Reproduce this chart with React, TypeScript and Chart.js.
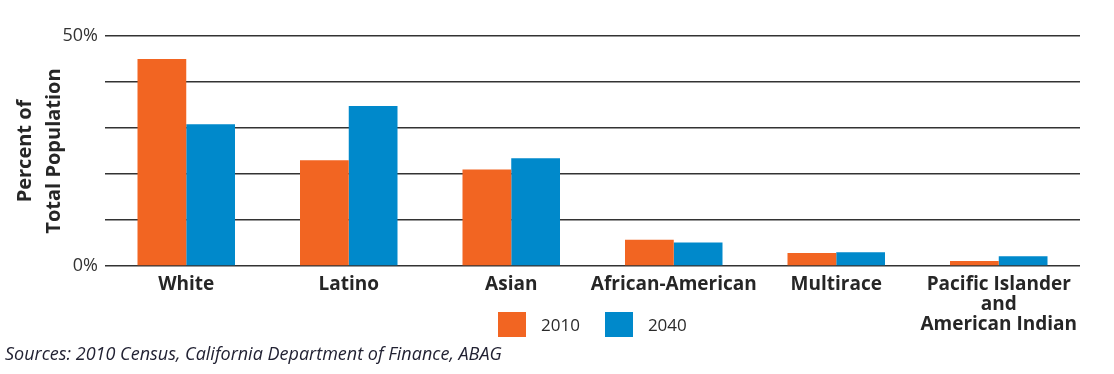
import React, { useEffect, useRef } from 'react';
import { Chart, registerables } from 'chart.js';

Chart.register(...registerables);

const categories: (string | string[])[] = [
  'White',
  'Latino',
  'Asian',
  'African-American',
  'Multirace',
  ['Pacific Islander', 'and', 'American Indian'],
];
const seriesNames = ['2010', '2040'];
const values2010 = [45, 23, 21, 5.7, 2.8, 1.1];
const values2040 = [30.8, 34.8, 23.4, 5.1, 3.0, 2.1];
const seriesColors = ['#F26522', '#0089CB'];
const yTickValues = [0, 10, 20, 30, 40, 50];
const yTickLabels = ['0%', '', '', '', '', '50%'];
const yTitle = ['Percent of', 'Total Population'];
const sourceText = 'Sources: 2010 Census, California Department of Finance, ABAG';

const FONT = "'Open Sans', sans-serif";

export default function App() {
  const ref = useRef<HTMLCanvasElement | null>(null);

  useEffect(() => {
    if (!ref.current) return;
    const chart = new Chart(ref.current, {
      type: 'bar',
      data: {
        labels: categories,
        datasets: [
          {
            label: seriesNames[0],
            data: values2010,
            backgroundColor: seriesColors[0],
            borderWidth: 0,
            barPercentage: 1,
            categoryPercentage: 0.6,
          },
          {
            label: seriesNames[1],
            data: values2040,
            backgroundColor: seriesColors[1],
            borderWidth: 0,
            barPercentage: 1,
            categoryPercentage: 0.6,
          },
        ],
      },
      options: {
        animation: false,
        responsive: false,
        maintainAspectRatio: false,
        layout: { padding: { left: 0, right: 34, top: 36, bottom: 0 } },
        plugins: {
          legend: { display: false },
          tooltip: { enabled: false },
          title: { display: false },
        },
        scales: {
          x: {
            type: 'category',
            offset: true,
            grid: { display: false, drawTicks: false },
            border: { display: false },
            ticks: {
              color: '#262626',
              padding: 9,
              maxRotation: 0,
              autoSkip: false,
              font: { family: FONT, size: 19, weight: 700, lineHeight: '20px' },
            },
            afterFit: (s: any) => {
              s.height = 108;
            },
          },
          y: {
            min: 0,
            max: 50,
            afterBuildTicks: (s: any) => {
              s.ticks = yTickValues.map((v) => ({ value: v }));
            },
            grid: { color: '#333333', lineWidth: 1.5, drawTicks: false },
            border: { display: false },
            ticks: {
              color: '#333333',
              padding: 7,
              font: { family: FONT, size: 18 },
              callback: (v: any) => {
                const i = yTickValues.indexOf(Number(v));
                return i >= 0 ? yTickLabels[i] : '';
              },
            },
            title: {
              display: true,
              text: yTitle,
              color: '#262626',
              padding: { top: 11, bottom: 0 },
              font: { family: FONT, size: 20, weight: 700, lineHeight: '29px' },
            },
            afterFit: (s: any) => {
              s.width = 105;
            },
          },
        },
      },
    });
    return () => chart.destroy();
  }, []);

  return (
    <div style={{ position: 'absolute', left: 0, top: 0, width: 1114, height: 374, background: '#fff' }}>
      <canvas ref={ref} width={1114} height={374} style={{ display: 'block' }} />
      <div
        style={{
          position: 'absolute',
          left: 498,
          top: 312,
          display: 'flex',
          alignItems: 'center',
          fontFamily: FONT,
          fontSize: 17,
          color: '#2a2a2a',
          lineHeight: '25px',
        }}
      >
        {seriesNames.map((n, i) => (
          <div key={n} style={{ display: 'flex', alignItems: 'center', marginRight: i === 0 ? 25 : 0 }}>
            <div style={{ width: 28, height: 25, background: seriesColors[i], marginRight: 15 }} />
            <span>{n}</span>
          </div>
        ))}
      </div>
      <div
        style={{
          position: 'absolute',
          left: 5,
          top: 341,
          fontFamily: FONT,
          fontStyle: 'italic',
          fontSize: 18,
          color: '#222233',
          lineHeight: '24px',
          whiteSpace: 'nowrap',
        }}
      >
        {sourceText}
      </div>
    </div>
  );
}
